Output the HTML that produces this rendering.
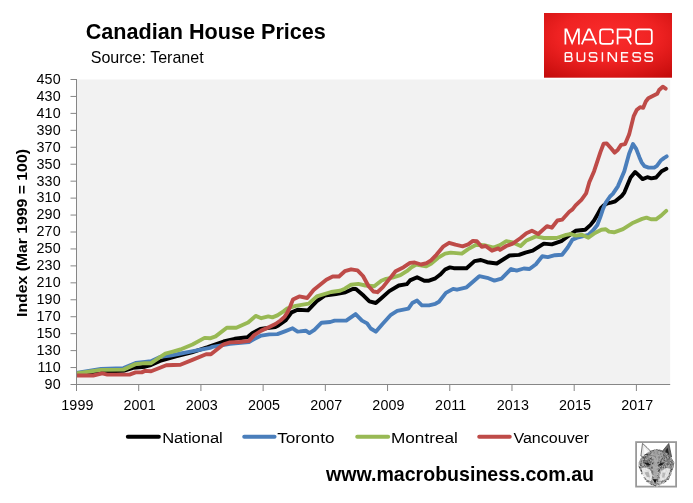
<!DOCTYPE html>
<html><head><meta charset="utf-8"><title>Canadian House Prices</title>
<style>
html,body{margin:0;padding:0;background:#fff;}
body{width:693px;height:503px;overflow:hidden;font-family:"Liberation Sans",sans-serif;}
svg{display:block;will-change:transform;}
text{font-family:"Liberation Sans",sans-serif;fill:#000;}
.ser{fill:none;stroke-width:3.9;stroke-linejoin:round;stroke-linecap:round;}
</style></head><body>
<svg width="693" height="503" viewBox="0 0 693 503">
<defs>
<radialGradient id="lg" cx="50%" cy="36%" r="78%">
<stop offset="0" stop-color="#fa2c2c"/><stop offset="0.5" stop-color="#ef2222"/><stop offset="1" stop-color="#c50c0c"/>
</radialGradient>
<filter id="fur" x="0" y="0" width="100%" height="100%">
<feTurbulence type="fractalNoise" baseFrequency="0.6" numOctaves="2" seed="4" result="n"/>
<feColorMatrix in="n" type="matrix" values="0 0 0 0 0  0 0 0 0 0  0 0 0 0 0  1.5 1.5 0 0 -1.15" result="a"/>
<feComposite in="a" in2="SourceGraphic" operator="in"/>
</filter>
<filter id="soft" x="-5%" y="-5%" width="110%" height="110%"><feGaussianBlur stdDeviation="0.45"/></filter>
<linearGradient id="fg" x1="0" y1="0" x2="0" y2="1"><stop offset="0" stop-color="#9c9c9c"/><stop offset="0.5" stop-color="#aeaeae"/><stop offset="1" stop-color="#d2d2d2"/></linearGradient>
<filter id="jag" x="-10%" y="-10%" width="120%" height="120%"><feTurbulence type="fractalNoise" baseFrequency="0.45" numOctaves="1" seed="7" result="t"/><feDisplacementMap in="SourceGraphic" in2="t" scale="2.6" xChannelSelector="R" yChannelSelector="G"/></filter>
</defs>
<rect width="693" height="503" fill="#fff"/>
<!-- plot area -->
<rect x="76.5" y="79.5" width="593.7" height="305.0" fill="#f2f2f2"/>
<!-- title -->
<text x="85.7" y="39.2" font-size="21.6" font-weight="bold" textLength="240.2" lengthAdjust="spacingAndGlyphs">Canadian House Prices</text>
<text x="90.7" y="63" font-size="16.4" textLength="113" lengthAdjust="spacingAndGlyphs">Source: Teranet</text>
<!-- y axis title -->
<text transform="translate(27.4,316.9) rotate(-90)" font-size="14" font-weight="bold" textLength="167.8" lengthAdjust="spacingAndGlyphs">Index (Mar 1999 = 100)</text>
<!-- series -->
<clipPath id="pc"><rect x="76.5" y="70" width="596" height="320"/></clipPath>
<g clip-path="url(#pc)"><g transform="translate(0,0.3)">
<polyline class="ser" stroke="#000000" points="76.5,373.8 101.0,371.2 123.5,370.6 133.0,367.6 145.0,366.4 151.0,364.8 160.0,360.7 175.9,356.0 191.8,352.0 207.7,346.9 223.6,341.2 234.7,338.5 247.4,336.9 252.2,332.9 260.3,328.7 269.3,327.5 275.4,326.7 278.4,325.2 285.5,320.2 291.6,312.1 297.6,309.5 308.0,310.1 316.8,300.9 324.7,295.3 335.9,293.7 345.5,292.0 352.7,288.7 355.9,288.7 363.8,295.5 369.4,301.1 375.8,302.7 381.3,297.9 389.3,290.8 398.8,285.2 406.8,283.9 410.0,280.1 417.1,276.9 424.3,280.4 429.0,280.4 435.4,278.0 440.0,274.5 445.1,269.2 449.9,267.1 453.8,267.9 466.6,267.9 474.5,260.8 480.9,259.7 487.2,261.9 496.8,263.2 503.1,259.2 509.5,255.2 519.0,254.6 525.4,252.3 532.7,250.4 543.8,243.3 551.8,244.1 561.3,240.9 567.7,236.1 575.6,230.5 585.2,229.4 590.6,224.6 594.2,220.0 597.9,213.4 600.9,207.9 603.9,204.9 607.6,203.0 611.0,202.3 615.3,201.0 621.7,195.7 624.3,192.3 630.6,177.2 635.1,171.7 638.6,174.8 642.6,178.8 647.3,176.9 651.3,178.0 656.1,177.2 661.6,170.9 666.4,168.5"/>
<polyline class="ser" stroke="#4a7ebb" points="76.5,372.7 101.0,368.6 123.5,367.8 135.6,362.7 145.0,361.6 151.0,360.9 160.0,356.6 170.3,355.3 180.7,353.2 191.8,351.0 210.0,347.5 212.5,346.6 230.0,343.5 249.0,341.7 253.2,339.3 261.3,335.3 269.3,334.1 277.4,333.8 285.5,330.8 292.6,328.0 297.6,331.3 300.0,331.1 305.8,330.4 309.4,332.8 314.4,329.6 321.6,322.4 330.3,321.7 334.6,320.3 346.2,320.3 355.6,313.8 362.0,320.3 367.1,323.1 370.7,328.2 375.8,331.4 382.3,323.9 390.9,314.5 397.2,310.6 408.4,308.3 412.3,302.7 417.1,300.3 421.9,305.1 429.0,305.1 435.4,303.5 439.0,301.5 445.9,292.6 453.1,288.6 457.0,289.4 466.6,287.0 479.3,275.9 487.2,277.5 494.4,280.3 501.5,278.3 511.1,268.7 516.6,270.3 523.8,268.2 529.5,268.7 535.9,263.9 542.3,256.0 547.8,256.8 555.0,254.9 562.1,254.4 567.7,247.2 572.5,239.3 577.2,237.4 588.4,234.5 593.0,230.2 597.3,224.7 600.3,216.8 602.7,209.5 605.8,202.3 610.0,196.2 612.8,193.6 617.9,186.0 624.3,170.9 629.1,153.4 633.0,143.8 636.2,148.6 639.5,157.1 641.6,162.0 644.4,165.9 648.6,167.3 654.2,167.3 656.9,165.5 661.1,159.9 663.9,157.8 666.7,156.1"/>
<polyline class="ser" stroke="#98b954" points="76.5,373.2 101.0,369.6 123.5,369.3 135.6,363.8 145.0,362.8 151.1,362.9 165.3,353.3 172.0,351.5 180.4,349.2 192.5,344.2 204.6,337.6 210.0,338.0 215.6,336.1 226.8,327.4 236.3,327.4 248.1,322.2 255.7,315.6 261.3,317.9 268.3,316.1 272.4,317.1 277.4,315.1 283.5,311.1 287.5,308.0 295.6,305.5 308.8,303.3 316.8,296.1 331.1,291.7 340.0,290.5 344.8,288.4 351.1,284.4 358.3,283.6 365.4,285.2 374.2,286.0 381.3,280.4 386.1,278.5 392.5,277.3 400.4,274.9 406.8,270.9 411.5,266.9 416.3,264.2 425.9,266.1 431.0,263.5 437.9,257.6 445.1,253.3 450.7,252.3 461.8,253.3 468.2,248.8 476.1,244.4 484.1,244.9 493.6,247.3 500.0,244.9 506.3,240.9 512.7,242.2 520.6,245.7 526.0,240.5 535.9,236.1 543.8,237.7 556.6,237.7 566.1,234.5 570.9,233.7 575.6,235.3 582.0,234.5 588.4,237.4 595.0,232.7 601.4,229.4 605.8,228.9 609.0,231.3 614.1,232.0 623.0,228.8 633.2,222.4 642.1,218.6 646.5,217.3 651.0,219.0 656.0,219.0 661.1,215.4 666.2,210.6"/>
<polyline class="ser" stroke="#be4b48" points="76.5,375.2 93.2,375.2 102.3,373.1 107.3,374.3 129.5,374.3 135.6,372.1 141.7,372.1 145.0,370.6 151.1,371.0 160.0,367.4 166.3,365.0 180.4,364.4 191.8,359.8 206.1,353.9 210.9,353.9 223.6,344.0 230.0,342.1 239.5,341.7 249.0,340.6 254.2,334.8 261.3,330.3 269.3,326.7 275.4,323.7 280.5,320.2 284.5,316.6 287.5,312.1 290.1,306.5 292.9,299.3 299.3,296.1 307.2,297.7 313.6,289.7 326.3,279.4 332.7,276.2 339.0,276.2 344.8,270.9 351.1,269.0 357.5,270.1 363.0,275.7 368.6,286.0 373.4,291.2 377.4,291.9 382.9,286.8 389.3,278.8 395.6,270.9 403.6,266.9 410.0,262.6 414.7,262.2 421.1,264.2 426.6,262.9 431.0,260.0 436.4,254.5 443.5,246.0 449.1,242.5 455.4,244.4 462.6,246.0 468.2,244.1 472.9,240.6 476.9,240.9 481.7,246.5 485.6,245.7 492.0,250.4 498.4,248.1 500.0,249.6 506.3,245.7 512.7,243.3 520.6,237.7 526.4,232.9 531.9,230.5 538.3,233.7 547.0,225.8 551.8,227.4 557.4,220.2 562.1,219.4 569.3,211.5 572.5,209.1 575.6,205.1 581.4,199.5 586.1,193.1 589.3,182.0 594.1,170.9 600.4,151.8 603.6,143.5 606.8,143.1 610.8,147.8 614.7,152.3 617.9,149.4 621.1,144.6 625.1,143.8 629.1,134.3 633.7,115.8 636.9,109.4 640.1,106.9 643.2,107.5 645.8,101.2 648.3,98.0 654.7,94.8 657.2,93.5 659.1,89.7 662.8,86.4 665.7,88.3"/>
</g></g>
<!-- axes -->
<g stroke="#868686" stroke-width="1" fill="none">
<line x1="76.5" y1="79.0" x2="76.5" y2="385.0"/>
<line x1="76.0" y1="384.5" x2="670.2" y2="384.5"/>
<line x1="70.5" y1="79.50" x2="76.5" y2="79.50"/><line x1="70.5" y1="96.44" x2="76.5" y2="96.44"/><line x1="70.5" y1="113.39" x2="76.5" y2="113.39"/><line x1="70.5" y1="130.33" x2="76.5" y2="130.33"/><line x1="70.5" y1="147.28" x2="76.5" y2="147.28"/><line x1="70.5" y1="164.22" x2="76.5" y2="164.22"/><line x1="70.5" y1="181.17" x2="76.5" y2="181.17"/><line x1="70.5" y1="198.11" x2="76.5" y2="198.11"/><line x1="70.5" y1="215.06" x2="76.5" y2="215.06"/><line x1="70.5" y1="232.00" x2="76.5" y2="232.00"/><line x1="70.5" y1="248.94" x2="76.5" y2="248.94"/><line x1="70.5" y1="265.89" x2="76.5" y2="265.89"/><line x1="70.5" y1="282.83" x2="76.5" y2="282.83"/><line x1="70.5" y1="299.78" x2="76.5" y2="299.78"/><line x1="70.5" y1="316.72" x2="76.5" y2="316.72"/><line x1="70.5" y1="333.67" x2="76.5" y2="333.67"/><line x1="70.5" y1="350.61" x2="76.5" y2="350.61"/><line x1="70.5" y1="367.56" x2="76.5" y2="367.56"/><line x1="70.5" y1="384.50" x2="76.5" y2="384.50"/>
<line x1="76.50" y1="384.5" x2="76.50" y2="391"/><line x1="138.71" y1="384.5" x2="138.71" y2="391"/><line x1="200.92" y1="384.5" x2="200.92" y2="391"/><line x1="263.13" y1="384.5" x2="263.13" y2="391"/><line x1="325.34" y1="384.5" x2="325.34" y2="391"/><line x1="387.56" y1="384.5" x2="387.56" y2="391"/><line x1="449.77" y1="384.5" x2="449.77" y2="391"/><line x1="511.98" y1="384.5" x2="511.98" y2="391"/><line x1="574.19" y1="384.5" x2="574.19" y2="391"/><line x1="636.40" y1="384.5" x2="636.40" y2="391"/>
</g>
<g font-size="14.3" letter-spacing="0.1">
<text x="60.7" y="83.85" text-anchor="end">450</text><text x="60.7" y="100.79" text-anchor="end">430</text><text x="60.7" y="117.74" text-anchor="end">410</text><text x="60.7" y="134.68" text-anchor="end">390</text><text x="60.7" y="151.63" text-anchor="end">370</text><text x="60.7" y="168.57" text-anchor="end">350</text><text x="60.7" y="185.52" text-anchor="end">330</text><text x="60.7" y="202.46" text-anchor="end">310</text><text x="60.7" y="219.41" text-anchor="end">290</text><text x="60.7" y="236.35" text-anchor="end">270</text><text x="60.7" y="253.29" text-anchor="end">250</text><text x="60.7" y="270.24" text-anchor="end">230</text><text x="60.7" y="287.18" text-anchor="end">210</text><text x="60.7" y="304.13" text-anchor="end">190</text><text x="60.7" y="321.07" text-anchor="end">170</text><text x="60.7" y="338.02" text-anchor="end">150</text><text x="60.7" y="354.96" text-anchor="end">130</text><text x="60.7" y="371.91" text-anchor="end">110</text><text x="60.7" y="388.85" text-anchor="end">90</text>
</g>
<g font-size="14.3" letter-spacing="0.1">
<text x="77.40" y="410.3" text-anchor="middle">1999</text><text x="139.61" y="410.3" text-anchor="middle">2001</text><text x="201.82" y="410.3" text-anchor="middle">2003</text><text x="264.03" y="410.3" text-anchor="middle">2005</text><text x="326.24" y="410.3" text-anchor="middle">2007</text><text x="388.46" y="410.3" text-anchor="middle">2009</text><text x="450.67" y="410.3" text-anchor="middle">2011</text><text x="512.88" y="410.3" text-anchor="middle">2013</text><text x="575.09" y="410.3" text-anchor="middle">2015</text><text x="637.30" y="410.3" text-anchor="middle">2017</text>
</g>
<!-- legend -->
<g stroke-width="3.9" stroke-linecap="round">
<line x1="127.8" y1="436.8" x2="158.9" y2="436.8" stroke="#000"/>
<line x1="244.2" y1="436.8" x2="274.6" y2="436.8" stroke="#4a7ebb"/>
<line x1="357.2" y1="436.8" x2="388.2" y2="436.8" stroke="#98b954"/>
<line x1="479.2" y1="436.8" x2="509.8" y2="436.8" stroke="#be4b48"/>
</g>
<g font-size="14.9">
<text x="162.2" y="442.8" textLength="60.6" lengthAdjust="spacingAndGlyphs">National</text>
<text x="277.2" y="442.8" textLength="57.3" lengthAdjust="spacingAndGlyphs">Toronto</text>
<text x="391" y="442.8" textLength="66.8" lengthAdjust="spacingAndGlyphs">Montreal</text>
<text x="513.4" y="442.8" textLength="75.6" lengthAdjust="spacingAndGlyphs">Vancouver</text>
</g>
<!-- footer url -->
<text x="326" y="481.2" font-size="19.8" font-weight="bold" textLength="268" lengthAdjust="spacingAndGlyphs">www.macrobusiness.com.au</text>
<!-- logo -->
<rect x="544" y="13" width="128" height="64.7" fill="url(#lg)"/>
<g fill="none" stroke="#fff" stroke-width="1.75" stroke-linejoin="miter" stroke-linecap="butt" opacity="1">
<!-- MACRO : y 28.9..44.2 -->
<path d="M565.4,44.4 V29.3 H566.6 L572.1,43 L577.7,29.3 H578.9 V44.4"/>
<path d="M581.8,44.4 L588.4,29.3 H589.7 L596.3,44.4 M584,39.6 H594.1"/>
<path d="M612.8,33.2 V31.6 Q612.8,29.3 610.4,29.3 H602.6 Q600.1,29.3 600.1,31.8 V41.6 Q600.1,43.9 602.6,43.9 H610.4 Q612.8,43.9 612.8,41.6 V39.8"/>
<path d="M617.6,44.4 V29.3 H628.2 Q630.6,29.3 630.6,31.6 V35.2 Q630.6,37.5 628.2,37.5 H617.6 M627,37.5 L631.2,44.4"/>
<path d="M638.6,29.3 H649.3 Q651.8,29.3 651.8,31.8 V41.4 Q651.8,43.9 649.3,43.9 H638.6 Q636.1,43.9 636.1,41.4 V31.8 Q636.1,29.3 638.6,29.3 Z"/>
</g>
<g fill="none" stroke="#fff" stroke-width="1.5" stroke-linejoin="miter" opacity="0.97">
<!-- BUSINESS : y 52.2..61.6 -->
<path d="M565.3,52.7 V61.2 H570.6 Q572,61.2 572,59.8 V58.2 Q572,56.8 570.6,56.8 H565.3 M565.3,52.7 H570.2 Q571.5,52.7 571.5,54 V55.5 Q571.5,56.8 570.2,56.8"/>
<path d="M577.2,52.2 V59.6 Q577.2,61.2 578.8,61.2 H583 Q584.6,61.2 584.6,59.6 V52.2"/>
<path d="M596.6,54.6 V54.1 Q596.6,52.7 595.2,52.7 H590.9 Q589.5,52.7 589.5,54.1 V55.5 Q589.5,56.9 590.9,56.9 H595.4 Q596.8,56.9 596.8,58.3 V59.8 Q596.8,61.2 595.4,61.2 H590.7 Q589.3,61.2 589.3,59.8 V59.2"/>
<path d="M602.4,52.2 V61.7"/>
<path d="M608.3,61.7 V52.7 H609.2 L615.4,61.2 H616.3 V52.2"/>
<path d="M628.2,52.7 H621.7 V61.2 H628.2 M621.7,56.9 H627.6"/>
<path d="M640.2,54.6 V54.1 Q640.2,52.7 638.8,52.7 H634.5 Q633.1,52.7 633.1,54.1 V55.5 Q633.1,56.9 634.5,56.9 H639 Q640.4,56.9 640.4,58.3 V59.8 Q640.4,61.2 639,61.2 H634.3 Q632.9,61.2 632.9,59.8 V59.2"/>
<path d="M652.2,54.6 V54.1 Q652.2,52.7 650.8,52.7 H646.5 Q645.1,52.7 645.1,54.1 V55.5 Q645.1,56.9 646.5,56.9 H651 Q652.4,56.9 652.4,58.3 V59.8 Q652.4,61.2 651,61.2 H646.3 Q644.9,61.2 644.9,59.8 V59.2"/>
</g>
<!-- fox icon -->
<rect x="636.1" y="442.1" width="40" height="44.5" fill="#fff" stroke="#999" stroke-width="1.8"/>
<g filter="url(#soft)">
<!-- ears -->
<path d="M642.5,443.4 L640.9,456 L646,458 L652,452.6 L647,447.5 Z" fill="#e9e9e9" stroke="#555" stroke-width="0.8"/>
<path d="M644,447 L644.4,455.5 L649,452.8 Z" fill="#fbfbfb"/>
<path d="M668.8,443.4 L671.6,457 L666,458.5 L661.6,452.2 L665,448 Z" fill="#6a6a6a" stroke="#444" stroke-width="0.8"/>
<path d="M667.6,447.5 L669.2,455.8 L666.2,454.5 L665.4,451 Z" fill="#222"/>
<!-- head -->
<g filter="url(#jag)" transform="translate(0.5,0.6)">
<path id="fh" d="M646.5,452.5 L651,449.6 L656,448.6 L661,449.4 L666.5,452.5 L671,457.5 L673.8,462 L673.2,466.5 L671.5,470.5 L670.5,475 L668,479.5 L664,482.5 L660.5,484 L657.5,485.8 L654.8,486.2 L652.5,485.5 L649.5,483.5 L646,481.5 L643.5,478 L642.3,474 L640,470.5 L638.2,466.5 L638,462.5 L640.5,457.5 Z" fill="url(#fg)"/>
<use href="#fh" fill="#3a3a3a" filter="url(#fur)" opacity="0.62"/>
<path d="M650,452 L656,450 L662,452 L660,459 L656,462 L652,459 Z" fill="#b4b4b4" opacity="0.55"/>
</g>
<!-- cheeks -->
<path d="M641.5,468 L646,467.5 L650.8,470.5 L652.2,476 L651,481 L646.5,479.5 L643,475.5 Z" fill="#f4f4f4" opacity="0.85"/>
<path d="M670.5,468.5 L666,468 L661.5,471 L659.4,476 L660,481 L664.5,480 L668.2,476 Z" fill="#f1f1f1" opacity="0.85"/>
<path d="M644.5,472.5 L648.5,471.5 L650,477.5 L647,477 Z" fill="#9a9a9a" opacity="0.7"/>
<path d="M662.5,473 L665.5,472.5 L664.5,477.5 L662,477.5 Z" fill="#a5a5a5" opacity="0.7"/>
<!-- muzzle -->
<path d="M654,458 L652.8,467 L653.8,479.5 L656.6,479.5 L657.8,467 L656.4,458 Z" fill="#adadad" opacity="0.85"/>
<!-- eyes -->
<path d="M643.8,462.8 L647.5,462.6 L651.2,465 L647.5,465.4 Z" fill="#1a1a1a"/>
<path d="M664.2,463.4 L660.8,463 L657.6,465.3 L661,465.8 Z" fill="#1a1a1a"/>
<!-- nose -->
<path d="M652.8,479.3 L657,479.3 L655,483.6 Z" fill="#0c0c0c"/>
</g>
</svg>
</body></html>
